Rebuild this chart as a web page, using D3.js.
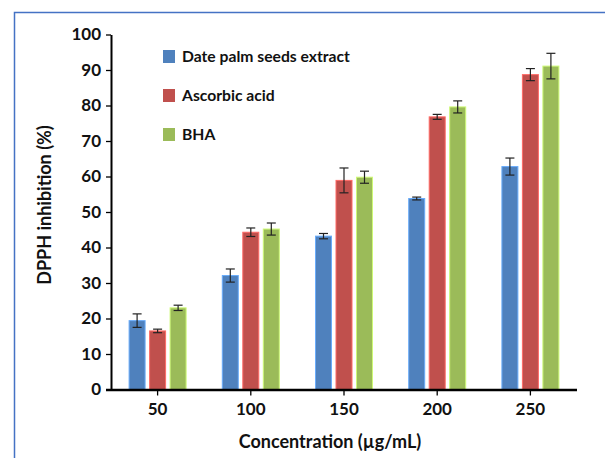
<!DOCTYPE html>
<html lang="en">
<head>
    <meta charset="UTF-8">
    <title>DPPH inhibition</title>
    <script src="https://d3js.org/d3.v7.min.js"></script>
    <style>
        body { margin: 0; background: #fff; }
        text { font-family: Lato, "Open Sans", sans-serif; font-weight: bold; fill: #111; }
    </style>
</head>
<body>
    <svg id="chart"></svg>

    <script>
        // data
        const concentrations = ['50', '100', '150', '200', '250'];
        const seriesNames = ['Date palm seeds extract', 'Ascorbic acid', 'BHA'];
        const seriesColors = ['#4F81BD', '#C0504D', '#9BBB59'];
        const dateValues = [19.4, 32.1, 43.2, 53.8, 62.8];
        const dateErrors = [1.9, 1.85, 0.75, 0.4, 2.4];
        const ascorbicValues = [16.5, 44.3, 58.9, 76.8, 88.7];
        const ascorbicErrors = [0.5, 1.2, 3.5, 0.7, 1.7];
        const bhaValues = [23.0, 45.2, 59.8, 79.6, 91.1];
        const bhaErrors = [0.75, 1.7, 1.7, 1.7, 3.6];
        const yTicks = [0, 10, 20, 30, 40, 50, 60, 70, 80, 90, 100];

        const values = [dateValues, ascorbicValues, bhaValues];
        const errors = [dateErrors, ascorbicErrors, bhaErrors];

        const W = 605, H = 458;
        const margin = { top: 34.5, right: 28, bottom: 68.5, left: 111 };
        const width = W - margin.left - margin.right;
        const height = H - margin.top - margin.bottom;

        const svg = d3.select('#chart')
            .attr('width', W)
            .attr('height', H);

        // blue frame round the picture
        svg.append('path')
            .attr('d', `M14.5,${H} V12.5 H${W}`)
            .attr('fill', 'none')
            .attr('stroke', '#4472C4')
            .attr('stroke-width', 1.5);

        const g = svg.append('g')
            .attr('transform', `translate(${margin.left},${margin.top})`);

        const x = d3.scaleBand().domain(concentrations).range([0, width]).padding(0);
        const y = d3.scaleLinear().domain([0, 100]).range([height, 0]);

        const barW = 16, step = 20.5;

        seriesNames.forEach((name, s) => {
            const rows = concentrations.map((c, i) => ({ c: c, v: values[s][i], e: errors[s][i] }));
            const cx = d => x(d.c) + x.bandwidth() / 2 + (s - 1) * step;

            g.selectAll('.bar' + s)
                .data(rows)
                .enter().append('rect')
                .attr('class', 'bar' + s)
                .attr('x', d => cx(d) - barW / 2)
                .attr('width', barW)
                .attr('y', d => y(d.v))
                .attr('height', d => height - y(d.v))
                .attr('fill', seriesColors[s])
                .attr('stroke', d3.color(seriesColors[s]).brighter(0.8))
                .attr('stroke-width', 1);

            // error bars
            const eb = g.selectAll('.err' + s)
                .data(rows)
                .enter().append('g')
                .attr('class', 'err' + s)
                .attr('stroke', '#222')
                .attr('stroke-width', 1.2);
            eb.append('line')
                .attr('x1', cx).attr('x2', cx)
                .attr('y1', d => y(d.v + d.e)).attr('y2', d => y(d.v - d.e));
            eb.append('line')
                .attr('x1', d => cx(d) - 4.5).attr('x2', d => cx(d) + 4.5)
                .attr('y1', d => y(d.v + d.e)).attr('y2', d => y(d.v + d.e));
            eb.append('line')
                .attr('x1', d => cx(d) - 4.5).attr('x2', d => cx(d) + 4.5)
                .attr('y1', d => y(d.v - d.e)).attr('y2', d => y(d.v - d.e));
        });

        // axes
        const yAxis = g.append('g')
            .call(d3.axisLeft(y).tickValues(yTicks).tickSize(5).tickSizeOuter(0));
        yAxis.select('.domain').attr('stroke', '#000').attr('stroke-width', 2);
        yAxis.selectAll('.tick line').attr('stroke', '#000').attr('stroke-width', 1.3);
        yAxis.selectAll('.tick text')
            .attr('x', -10)
            .style('font-size', '17px');

        const xAxis = g.append('g')
            .attr('transform', `translate(0,${height})`)
            .call(d3.axisBottom(x).tickSize(6).tickSizeOuter(0));
        xAxis.select('.domain')
            .attr('d', `M-5,0.5H${width}`)
            .attr('stroke', '#000').attr('stroke-width', 2.5);
        xAxis.selectAll('.tick line').attr('stroke', '#000').attr('stroke-width', 1.3);
        xAxis.selectAll('.tick text')
            .attr('y', 13)
            .style('font-size', '17px');

        // axis titles
        g.append('text')
            .attr('transform', `translate(${45 - margin.left},${205 - margin.top}) rotate(-90)`)
            .attr('text-anchor', 'middle')
            .attr('dy', '0.35em')
            .style('font-size', '18px')
            .text('DPPH inhibition (%)');

        g.append('text')
            .attr('x', 330 - margin.left)
            .attr('y', 442 - margin.top)
            .attr('text-anchor', 'middle')
            .attr('dy', '0.35em')
            .style('font-size', '18px')
            .text('Concentration (µg/mL)');

        // legend
        const legend = svg.append('g');
        seriesNames.forEach((name, s) => {
            const ly = 56.5 + s * 39;
            legend.append('rect')
                .attr('x', 163).attr('y', ly - 6.5)
                .attr('width', 12).attr('height', 13)
                .attr('fill', seriesColors[s]);
            legend.append('text')
                .attr('x', 182).attr('y', ly)
                .attr('dy', '0.35em')
                .style('font-size', '15.7px')
                .text(name);
        });
    </script>
</body>
</html>
